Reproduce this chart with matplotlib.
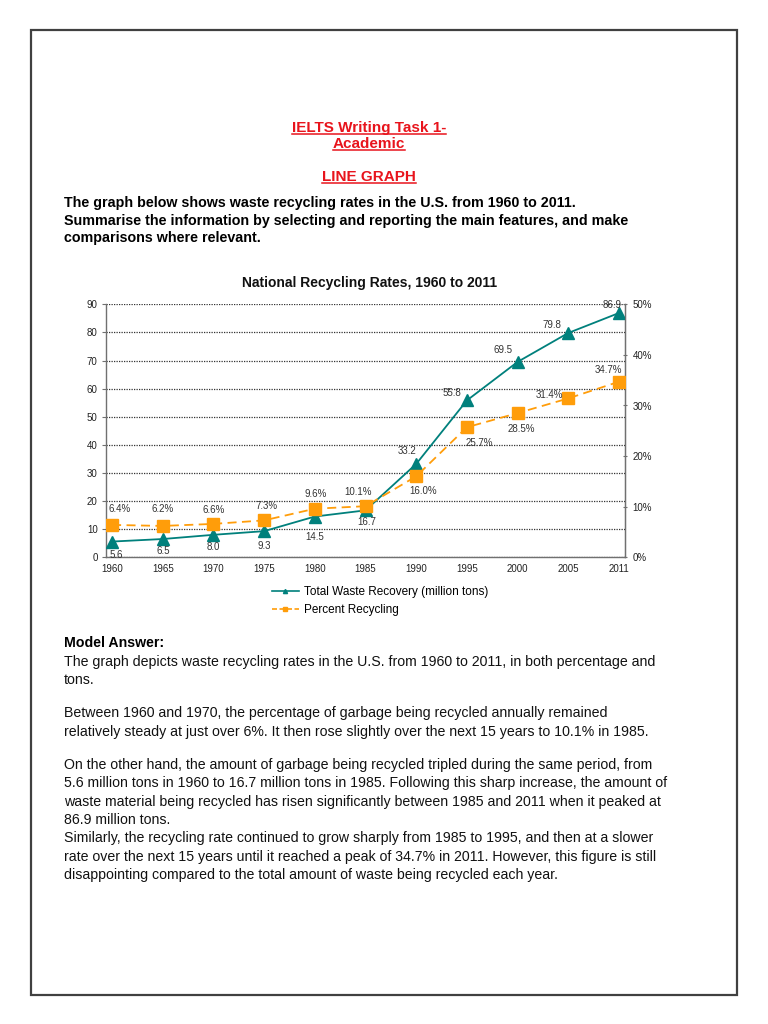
import matplotlib
matplotlib.use("Agg")
import matplotlib.pyplot as plt
from matplotlib.lines import Line2D
from matplotlib.patches import Rectangle

# data
years = ["1960", "1965", "1970", "1975", "1980", "1985", "1990", "1995", "2000", "2005", "2011"]
tons = [5.6, 6.5, 8.0, 9.3, 14.5, 16.7, 33.2, 55.8, 69.5, 79.8, 86.9]
percent = [6.4, 6.2, 6.6, 7.3, 9.6, 10.1, 16.0, 25.7, 28.5, 31.4, 34.7]

# label placement (pixels, relative to the marker)
tons_off = [(4, -13), (0, -12), (0, -12), (0, -15), (0, -20), (1, -12),
            (-9, 13), (-15, 7), (-15, 12), (-16, 8), (-7, 8)]
pct_off = [(8, 16), (0, 17), (0, 14), (2, 14), (1, 15), (-7, 14),
           (7, -15), (12, -16), (4, -16), (-19, 3), (-10, 12)]

W, H = 768, 1024
narrow = ["Liberation Sans Narrow", "Liberation Sans", "DejaVu Sans"]
arial = ["Liberation Sans", "DejaVu Sans"]
teal = "#00807c"
orange = "#ff9d0a"

fig = plt.figure(figsize=(W / 100, H / 100), dpi=100)
fig.patch.set_facecolor("white")


def px(x, y):
    return x / W, 1 - y / H


# page border
fig.add_artist(Rectangle(px(31, 995), (737 - 31) / W, (995 - 30) / H,
                         transform=fig.transFigure, fill=False,
                         edgecolor="#404040", linewidth=1.6))

# header
red_texts = []
for txt, y in [("IELTS Writing Task 1-", 128), ("Academic", 144), ("LINE GRAPH", 177)]:
    t = fig.text(*px(369, y), txt, ha="center", va="center", color="#e8141c",
                 fontsize=11, fontweight="bold", family=narrow)
    red_texts.append(t)

intro = ["The graph below shows waste recycling rates in the U.S. from 1960 to 2011.",
         "Summarise the information by selecting and reporting the main features, and make",
         "comparisons where relevant."]
for i, line in enumerate(intro):
    fig.text(*px(64, 203 + i * 17.5), line, ha="left", va="center", color="black",
             fontsize=10.3, fontweight="bold", family=narrow)

# chart
ax = fig.add_axes([106 / W, 1 - 557.3 / H, (625 - 106) / W, (557.3 - 304.3) / H])
x = list(range(len(years)))
ax.plot(x, tons, color=teal, linewidth=1.3, marker="^", markersize=9,
        markerfacecolor=teal, markeredgecolor=teal, zorder=4)
ax.set_ylim(0, 90)
ax.set_xlim(-0.12, len(years) - 1 + 0.12)
ax.set_yticks(range(0, 91, 10))
ax.set_xticks(x)
ax.set_xticklabels(years)
ax.grid(axis="y", linestyle=(0, (1, 1)), color="#333333", linewidth=0.9)
ax.set_axisbelow(True)
ax.spines["top"].set_visible(False)
for s in ["left", "bottom", "right"]:
    ax.spines[s].set_color("#707070")
    ax.spines[s].set_linewidth(1.0)
ax.tick_params(axis="y", length=3, width=0.8, color="#707070", pad=3,
               labelsize=7, labelcolor="#222222")
ax.tick_params(axis="x", length=0, pad=5, labelsize=7, labelcolor="#222222")
for lab in ax.get_xticklabels() + ax.get_yticklabels():
    lab.set_family(narrow)

ax2 = ax.twinx()
ax2.plot(x, percent, color=orange, linewidth=1.3, linestyle=(0, (5, 3)),
         marker="s", markersize=8, markerfacecolor=orange,
         markeredgecolor=orange, zorder=5)
ax2.set_ylim(0, 50)
ax2.set_yticks(range(0, 51, 10))
ax2.set_yticklabels([f"{v}%" for v in range(0, 51, 10)])
for s in ["top", "left", "bottom"]:
    ax2.spines[s].set_visible(False)
ax2.spines["right"].set_color("#707070")
ax2.tick_params(axis="y", length=3, width=0.8, color="#707070", pad=4,
                direction="inout", labelsize=7, labelcolor="#222222")
for lab in ax2.get_yticklabels():
    lab.set_family(narrow)

for xi, v, (dx, dy) in zip(x, tons, tons_off):
    ax.annotate(f"{v:.1f}", (xi, v), xytext=(dx, dy), textcoords="offset pixels",
                ha="center", va="center", fontsize=7, color="#333333",
                family=narrow, zorder=6)
for xi, v, (dx, dy) in zip(x, percent, pct_off):
    ax2.annotate(f"{v:.1f}%", (xi, v), xytext=(dx, dy), textcoords="offset pixels",
                 ha="center", va="center", fontsize=7, color="#333333",
                 family=narrow, zorder=6)

fig.text(*px(370, 283), "National Recycling Rates, 1960 to 2011", ha="center",
         va="center", fontsize=10, fontweight="bold", family=arial, color="#111111")

handles = [Line2D([], [], color=teal, linewidth=1.2, marker="^", markersize=3),
           Line2D([], [], color=orange, linewidth=1.2, linestyle=(0, (3, 1.5)),
                  marker="s", markersize=3)]
fig.legend(handles, ["Total Waste Recovery (million tons)", "Percent Recycling"],
           loc="upper left", bbox_to_anchor=px(266, 580), frameon=False,
           prop={"family": arial, "size": 8.5}, handlelength=2.3,
           handletextpad=0.4, labelspacing=0.55, borderpad=0)

# model answer
fig.text(*px(64, 643), "Model Answer:", ha="left", va="center", fontsize=10.2,
         fontweight="bold", family=narrow)
body = [(662, "The graph depicts waste recycling rates in the U.S. from 1960 to 2011, in both percentage and"),
        (680, "tons."),
        (713, "Between 1960 and 1970, the percentage of garbage being recycled annually remained"),
        (732, "relatively steady at just over 6%. It then rose slightly over the next 15 years to 10.1% in 1985."),
        (765, "On the other hand, the amount of garbage being recycled tripled during the same period, from"),
        (783, "5.6 million tons in 1960 to 16.7 million tons in 1985. Following this sharp increase, the amount of"),
        (802, "waste material being recycled has risen significantly between 1985 and 2011 when it peaked at"),
        (820, "86.9 million tons."),
        (838, "Similarly, the recycling rate continued to grow sharply from 1985 to 1995, and then at a slower"),
        (857, "rate over the next 15 years until it reached a peak of 34.7% in 2011. However, this figure is still"),
        (875, "disappointing compared to the total amount of waste being recycled each year.")]
for y, line in body:
    fig.text(*px(64, y), line, ha="left", va="center", fontsize=10.2,
             family=narrow, color="#111111")

# underline the red headings
fig.canvas.draw()
r = fig.canvas.get_renderer()
for t in red_texts:
    bb = t.get_window_extent(r)
    yl = (bb.y0 + 1) / H
    fig.add_artist(Line2D([bb.x0 / W, bb.x1 / W], [yl, yl], transform=fig.transFigure,
                          color="#e8141c", linewidth=1.1))

fig.savefig("out.png", dpi=100)
plt.close("all")
